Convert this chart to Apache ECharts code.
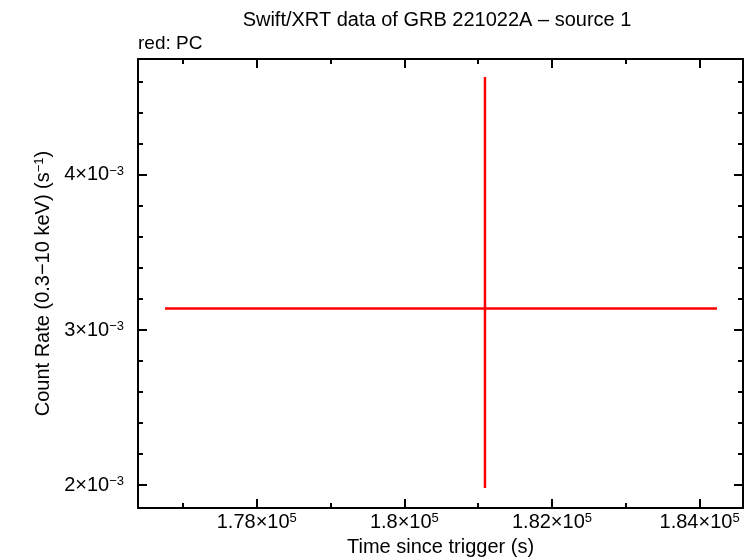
<!DOCTYPE html>
<html>
<head>
<meta charset="utf-8">
<script src="https://cdn.jsdelivr.net/npm/echarts@6/dist/echarts.min.js"></script>
<style>html,body{margin:0;padding:0;background:#fff;}#c{width:753px;height:558px;}</style>
</head>
<body>
<div id="c"></div>
<script>
// ---- data ----
const times = [181092];
const timeStart = [176757];
const timeEnd = [184236];
const rates = [3.139e-3];
const rateLow = [1.981e-3];
const rateHigh = [4.632e-3];

const xMajorTicks = [178000, 180000, 182000, 184000];
const xMinorTicks = [177000, 179000, 181000, 183000];
const xTickLabels = ['1.78', '1.8', '1.82', '1.84'];
const xTickExp = '5';
const yMajorTicks = [0.002, 0.003, 0.004];
const yMinorTicks = [0.0022, 0.0024, 0.0026, 0.0028, 0.0032, 0.0034, 0.0036, 0.0038, 0.0042, 0.0044, 0.0046];
const yTickLabels = ['2', '3', '4'];
const yTickExp = '\u22123';
const xRange = [176391, 184588];
const yRange = [0.001852, 0.004748];

const FONT = 'Liberation Sans';
const FS = 20;
const rich = {
  m: {fontFamily: FONT, fontSize: FS, color: '#000', lineHeight: 20, verticalAlign: 'bottom'},
  e: {fontFamily: FONT, fontSize: 13, color: '#000', lineHeight: 12, verticalAlign: 'top'}
};

const data = times.map((t, i) => [t, rates[i], timeStart[i], timeEnd[i], rateLow[i], rateHigh[i]]);

function xAx(pos, ticks, len, main) {
  return {
    type: 'value', position: pos, min: xRange[0], max: xRange[1],
    axisLine: {show: main, onZero: false, lineStyle: {color: '#000', width: 2}},
    axisTick: {show: true, inside: true, length: len, customValues: ticks, lineStyle: {color: '#000', width: 2}},
    axisLabel: (main && pos === 'bottom') ? {
      show: true, customValues: xMajorTicks, margin: 4,
      formatter: v => { const i = xMajorTicks.indexOf(v); return '{m|' + xTickLabels[i] + '\u00d710}{e|' + xTickExp + '}'; },
      rich: rich
    } : {show: false},
    splitLine: {show: false},
    name: (main && pos === 'bottom') ? 'Time since trigger (s)' : '',
    nameLocation: 'middle', nameGap: 29,
    nameTextStyle: {fontFamily: FONT, fontSize: FS, color: '#000'}
  };
}
function yAx(pos, ticks, len, main) {
  return {
    type: 'value', position: pos, min: yRange[0], max: yRange[1],
    axisLine: {show: main, onZero: false, lineStyle: {color: '#000', width: 2}},
    axisTick: {show: true, inside: true, length: len, customValues: ticks, lineStyle: {color: '#000', width: 2}},
    axisLabel: (main && pos === 'left') ? {
      show: true, customValues: yMajorTicks, margin: 14,
      formatter: v => { let i = 0, best = 1; yMajorTicks.forEach((t, k) => { if (Math.abs(t - v) < best) { best = Math.abs(t - v); i = k; } }); return '{m|' + yTickLabels[i] + '\u00d710}{e|' + yTickExp + '}'; },
      rich: rich
    } : {show: false},
    splitLine: {show: false},
    name: (main && pos === 'left') ? '{m|Count Rate (0.3\u221210 keV) (s}{e|\u22121}{m|)}' : '',
    nameLocation: 'middle', nameGap: 82, nameRotate: 90,
    nameTextStyle: {rich: rich}
  };
}

const chart = echarts.init(document.getElementById('c'), null, {renderer: 'canvas'});
chart.setOption({
  animation: false,
  backgroundColor: '#fff',
  grid: {left: 138, right: 10, top: 59, bottom: 50, containLabel: false, outerBoundsMode: 'none'},
  xAxis: [xAx('bottom', xMajorTicks, 9, true), xAx('bottom', xMinorTicks, 5, false), xAx('top', xMajorTicks, 9, true), xAx('top', xMinorTicks, 5, false)],
  yAxis: [yAx('left', yMajorTicks, 9, true), yAx('left', yMinorTicks, 5, false), yAx('right', yMajorTicks, 9, true), yAx('right', yMinorTicks, 5, false)],
  graphic: [
    {type: 'text', x: 437, y: 20, style: {text: 'Swift/XRT data of GRB 221022A \u2013 source 1', fontFamily: FONT, fontSize: 20, fill: '#000', align: 'center', verticalAlign: 'middle'}},
    {type: 'text', x: 138, y: 44, style: {text: 'red: PC', fontFamily: FONT, fontSize: 19, fill: '#000', align: 'left', verticalAlign: 'middle'}}
  ],
  series: [{
    type: 'custom', xAxisIndex: 0, yAxisIndex: 0,
    encode: {x: [0, 2, 3], y: [1, 4, 5]},
    data: data,
    renderItem: function (params, api) {
      const x = api.value(0), y = api.value(1);
      const pL = api.coord([api.value(2), y]), pR = api.coord([api.value(3), y]);
      const pB = api.coord([x, api.value(4)]), pT = api.coord([x, api.value(5)]);
      const st = {stroke: '#ff0000', lineWidth: 2.5};
      return {type: 'group', children: [
        {type: 'line', shape: {x1: pL[0], y1: pL[1], x2: pR[0], y2: pR[1]}, style: st},
        {type: 'line', shape: {x1: pB[0], y1: pB[1], x2: pT[0], y2: pT[1]}, style: st}
      ]};
    }
  }]
});
</script>
</body>
</html>
